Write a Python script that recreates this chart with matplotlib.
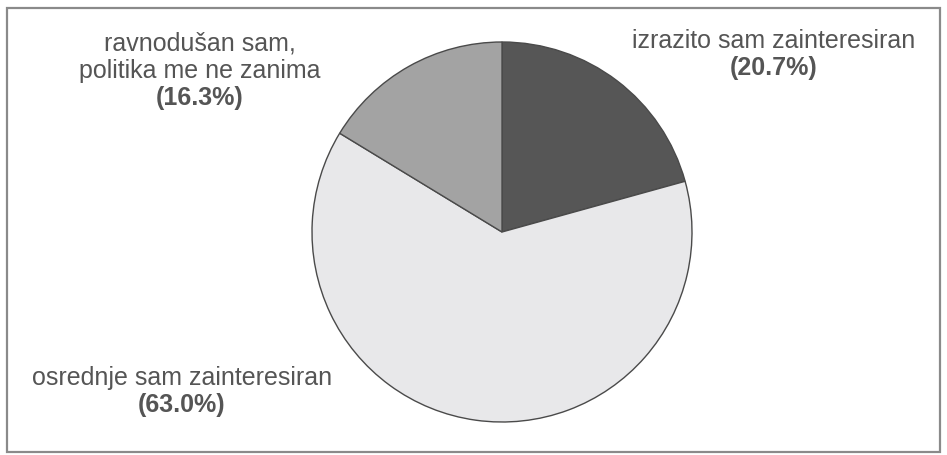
import matplotlib.pyplot as plt
from matplotlib.patches import Rectangle

labels = [['izrazito sam zainteresiran'],
          ['osrednje sam zainteresiran'],
          ['ravnodušan sam,', 'politika me ne zanima']]
shares = [20.7, 63.0, 16.3]
colors = ['#565656', '#e8e8ea', '#a3a3a3']

W, H = 947, 455
fig = plt.figure(figsize=(W / 100, H / 100), dpi=100)
fig.patch.set_facecolor('white')
ax = fig.add_axes([0, 0, 1, 1])

# frame around chart
ax.add_patch(Rectangle((7, 3), 933, 444, fill=False, edgecolor='#8a8a8a', lw=1.6))

ax.pie(shares, colors=colors, startangle=90, counterclock=False,
       center=(502, H - 232), radius=190, frame=True,
       wedgeprops=dict(edgecolor='#4a4a4a', linewidth=1.0))
ax.set_xlim(0, W)
ax.set_ylim(0, H)
ax.set_aspect('equal')
ax.axis('off')

tc = '#555555'
fs = 18
# label anchor: centre x, first baseline (pixel, top-down), line step
pos = [(774, 48), (182, 385), (200, 51)]
step = 27
for (x, y), lines, s in zip(pos, labels, shares):
    for i, line in enumerate(lines):
        ax.text(x, H - (y + i * step), line, ha='center', va='baseline',
                fontsize=fs, color=tc, family='Liberation Sans')
    ax.text(x, H - (y + len(lines) * step), '(%.1f%%)' % s, ha='center',
            va='baseline', fontsize=fs, color=tc, fontweight='bold',
            family='Liberation Sans')

fig.savefig('out.png', dpi=100)
